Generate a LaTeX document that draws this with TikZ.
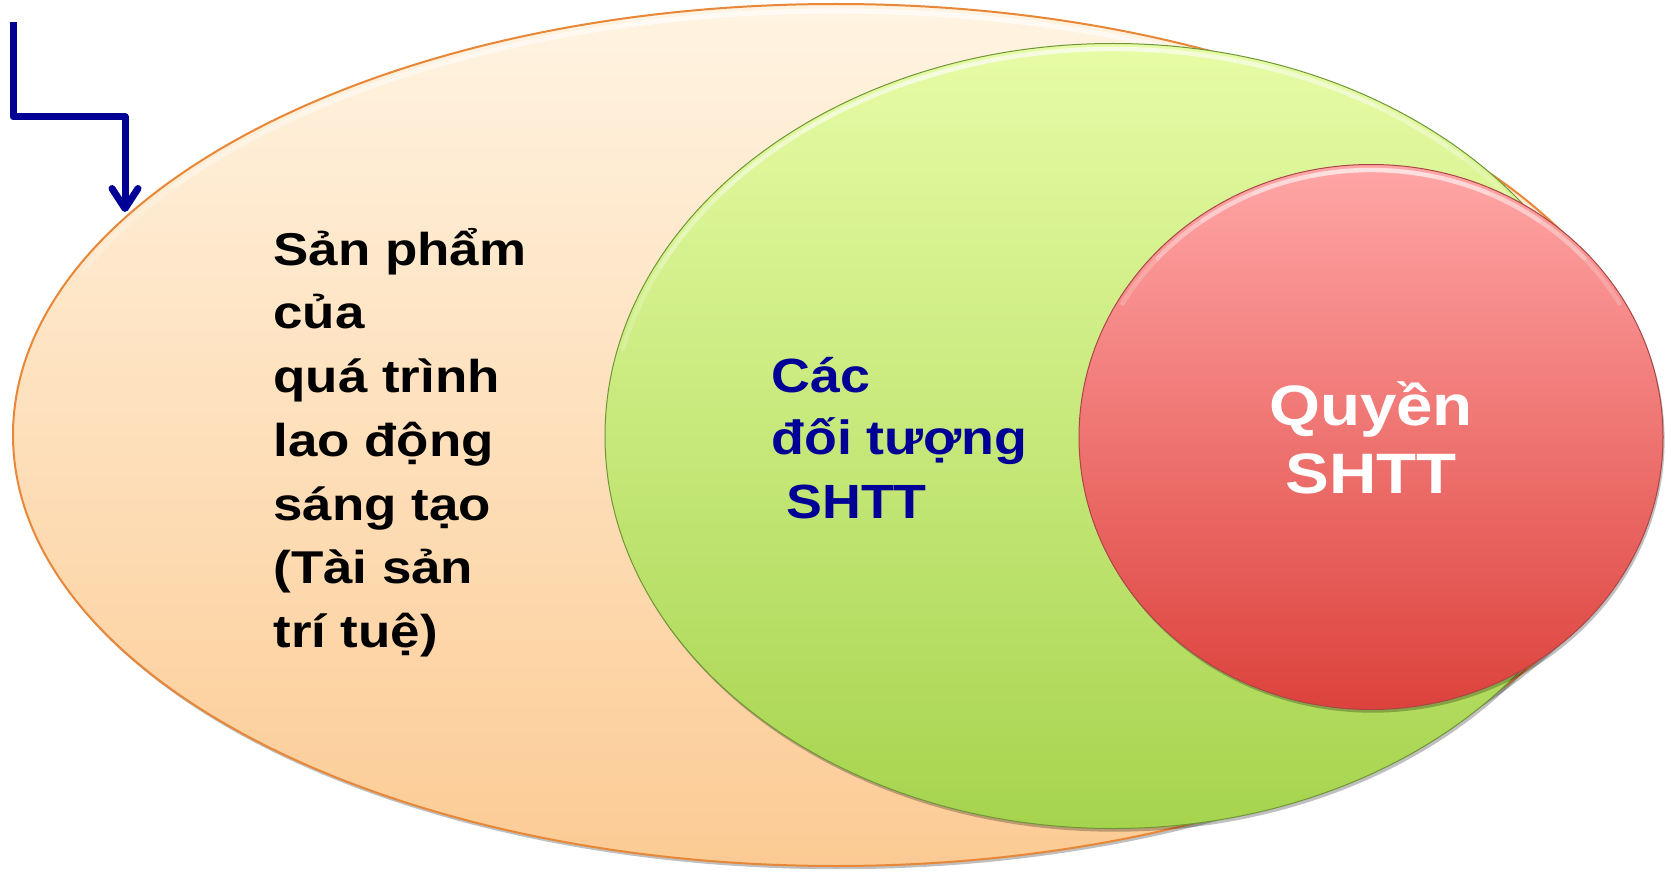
\documentclass[tikz,border=0pt]{standalone}
\usepackage{fontspec}
\newfontfamily\lsans[FakeStretch=1.15]{Liberation Sans}
\newfontfamily\lsansg[FakeStretch=1.12]{Liberation Sans}
\usetikzlibrary{shapes.geometric,arrows.meta,shadows}
\definecolor{navy}{RGB}{0,0,150}
\definecolor{orTop}{RGB}{255,244,226}
\definecolor{orMid}{RGB}{254,226,192}
\definecolor{orBot}{RGB}{252,203,148}
\definecolor{orLine}{RGB}{232,135,55}
\definecolor{grTop}{RGB}{231,252,166}
\definecolor{grMid}{RGB}{200,236,120}
\definecolor{grBot}{RGB}{166,212,78}
\definecolor{grLine}{RGB}{110,150,55}
\definecolor{pkTop}{RGB}{255,166,166}
\definecolor{pkMid}{RGB}{244,122,120}
\definecolor{pkBot}{RGB}{221,66,60}
\definecolor{pkLine}{RGB}{170,70,70}
\begin{document}
\begin{tikzpicture}[x=0.5pt,y=-0.5pt,
  blob/.style={ellipse, inner sep=0pt, outer sep=0pt,
    drop shadow={shadow xshift=0.8pt, shadow yshift=-1.6pt, opacity=0.25, fill=black}},
  shine/.style={draw=white, line width=2.2pt, opacity=0.2, line cap=round},
  txt/.style={inner sep=0pt},
  arrowline/.style={draw=navy, line width=3.5pt, line join=round,
    -{Straight Barb[length=10pt,width=13pt,round]}}
]
\useasboundingbox (0,0) rectangle (1667,872);
\fill[white] (0,0) rectangle (1667,872);

% ellipses
\node[blob, minimum width=823pt, minimum height=431pt,
  top color=orTop, middle color=orMid, bottom color=orBot,
  draw=orLine, line width=1pt] (prod) at (836,435) {};
\foreach \s in {15,28,41,54,67}
  \draw[shine, line width=2.6pt] ([shift={(-90-\s:817 and 424)}]836,435)
    arc[start angle=-90-\s, end angle=-90+\s, x radius=817, y radius=424];

\node[blob, minimum width=508pt, minimum height=392.5pt,
  top color=grTop, middle color=grMid, bottom color=grBot,
  draw=grLine, line width=0.5pt] (obj) at (1113,436) {};
\foreach \s in {15,28,41,54,67}
  \draw[shine] ([shift={(-100-\s:503 and 387)}]1113,436)
    arc[start angle=-100-\s, end angle=-100+\s, x radius=503, y radius=387];

\node[blob, minimum width=292pt, minimum height=272.5pt,
  top color=pkTop, middle color=pkMid, bottom color=pkBot,
  draw=pkLine, line width=0.5pt] (right) at (1371,437) {};
\foreach \s in {12,24,36,48,60}
  \draw[shine] ([shift={(-90-\s:287 and 267)}]1371,437)
    arc[start angle=-90-\s, end angle=-90+\s, x radius=287, y radius=267];

% texts
\node[txt, anchor=base west, text=black,
  font=\lsans\bfseries\fontsize{23pt}{31.9pt}\selectfont] (prodtxt) at (273,265)
  {\vtop{\hbox{Sản phẩm}\hbox{của}\hbox{quá trình}\hbox{lao động}\hbox{sáng tạo}\hbox{(Tài sản}\hbox{trí tuệ)}}};

\node[txt, anchor=base west, text=navy,
  font=\lsansg\bfseries\fontsize{24pt}{31.5pt}\selectfont] (objtxt) at (771,392)
  {\vtop{\hbox{Các}\hbox{đối tượng}\hbox{ SHTT}}};

\node[txt, anchor=base, text=white,
  font=\lsans\bfseries\fontsize{28.5pt}{34pt}\selectfont] (righttxt) at (1371,425)
  {\vtop{\halign{\hfil#\hfil\cr Quyền\cr SHTT\cr}}};

% arrow
\coordinate (astart) at (13,22);
\coordinate (abend) at (125,117);
\coordinate (aend) at (125,212);
\draw[arrowline] (astart) |- (abend) -- (aend);
\end{tikzpicture}
\end{document}
